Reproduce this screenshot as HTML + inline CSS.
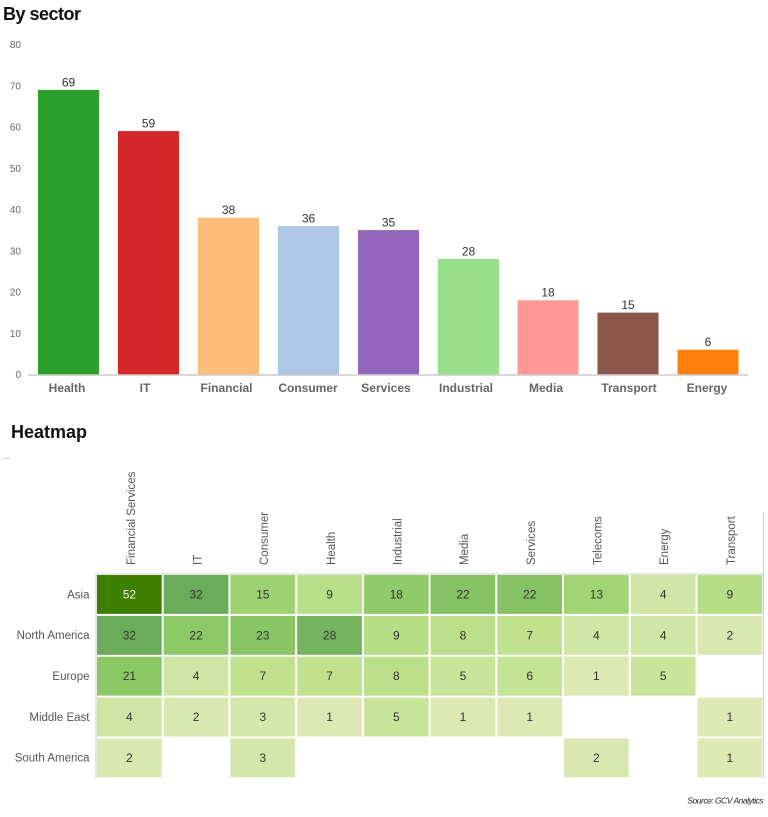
<!DOCTYPE html>
<html>
<head>
<meta charset="utf-8">
<style>
html,body{margin:0;padding:0;background:#fff;}
svg{display:block;font-family:"Liberation Sans",Arial,sans-serif;}
</style>
</head>
<body>
<svg width="768" height="817" viewBox="0 0 768 817" xmlns="http://www.w3.org/2000/svg">
<!-- Title -->
<text x="3" y="20" font-size="18" font-weight="bold" letter-spacing="-0.5" fill="#111">By sector</text>

<!-- Y ticks -->
<g font-size="10" fill="#666" text-anchor="end">
<text x="21" y="48">80</text>
<text x="21" y="89.5">70</text>
<text x="21" y="130.5">60</text>
<text x="21" y="171.8">50</text>
<text x="21" y="213">40</text>
<text x="21" y="254.3">30</text>
<text x="21" y="295.5">20</text>
<text x="21" y="336.8">10</text>
<text x="21" y="378">0</text>
</g>

<!-- Bars -->
<rect x="38" y="89.9" width="61" height="284.6" fill="#2ca02c"/>
<rect x="118" y="131.1" width="61" height="243.4" fill="#d62728"/>
<rect x="198" y="217.75" width="61" height="156.75" fill="#ffbb78"/>
<rect x="278" y="226" width="61" height="148.5" fill="#aec7e8"/>
<rect x="358" y="230.1" width="61" height="144.4" fill="#9467bd"/>
<rect x="438" y="259" width="61" height="115.5" fill="#98df8a"/>
<rect x="517.5" y="300.25" width="61" height="74.25" fill="#ff9896"/>
<rect x="597.5" y="312.6" width="61" height="61.9" fill="#8c564b"/>
<rect x="677.5" y="349.75" width="61" height="24.75" fill="#ff7f0e"/>

<line x1="28" y1="375" x2="748" y2="375" stroke="#ccc" stroke-width="1.5"/>

<!-- Value labels -->
<g font-size="12" fill="#333" text-anchor="middle">
<text x="68.5" y="86.5">69</text>
<text x="148.5" y="127.5">59</text>
<text x="228.5" y="214">38</text>
<text x="308.5" y="222.5">36</text>
<text x="388.5" y="226.5">35</text>
<text x="468.5" y="255.5">28</text>
<text x="548" y="296.5">18</text>
<text x="628" y="309">15</text>
<text x="708" y="346">6</text>
</g>

<!-- Category labels -->
<g font-size="12" font-weight="bold" fill="#666" text-anchor="middle">
<text x="67" y="392">Health</text>
<text x="145" y="392">IT</text>
<text x="226.5" y="392">Financial</text>
<text x="308" y="392">Consumer</text>
<text x="386" y="392">Services</text>
<text x="466" y="392">Industrial</text>
<text x="546" y="392">Media</text>
<text x="629" y="392">Transport</text>
<text x="707" y="392">Energy</text>
</g>

<!-- Heatmap title -->
<text x="11" y="438" font-size="18" font-weight="bold" fill="#111">Heatmap</text>
<line x1="3" y1="458.5" x2="10" y2="458.5" stroke="#ccc" stroke-width="1"/>

<!-- Column labels -->
<g font-size="11.5" fill="#555">
<text transform="translate(135,565) rotate(-90)">Financial Services</text>
<text transform="translate(201.5,565) rotate(-90)">IT</text>
<text transform="translate(268,565) rotate(-90)">Consumer</text>
<text transform="translate(335,565) rotate(-90)">Health</text>
<text transform="translate(401.5,565) rotate(-90)">Industrial</text>
<text transform="translate(468,565) rotate(-90)">Media</text>
<text transform="translate(535,565) rotate(-90)">Services</text>
<text transform="translate(601.5,565) rotate(-90)">Telecoms</text>
<text transform="translate(668,565) rotate(-90)">Energy</text>
<text transform="translate(735,565) rotate(-90)">Transport</text>
</g>

<!-- Row labels -->
<g font-size="11.5" fill="#555" text-anchor="end">
<text x="89.5" y="598.5">Asia</text>
<text x="89.5" y="639">North America</text>
<text x="89.5" y="680">Europe</text>
<text x="89.5" y="721">Middle East</text>
<text x="89.5" y="761.5">South America</text>
</g>

<!-- grid borders -->
<line x1="96" y1="574" x2="96" y2="778.3" stroke="#ccc" stroke-width="1"/>
<line x1="96" y1="574" x2="763" y2="574" stroke="#ccc" stroke-width="1"/>
<line x1="763.5" y1="512" x2="763.5" y2="778.3" stroke="#ccc" stroke-width="1"/>

<!-- Cells -->
<g>
<!-- Asia row y=574 -->
<rect x="97" y="575" width="64.7" height="38.9" fill="#3d7f00"/>
<rect x="163.7" y="575" width="64.7" height="38.9" fill="#6aac5a"/>
<rect x="230.4" y="575" width="64.7" height="38.9" fill="#9ed172"/>
<rect x="297.2" y="575" width="64.7" height="38.9" fill="#b5df88"/>
<rect x="363.9" y="575" width="64.7" height="38.9" fill="#91ca6a"/>
<rect x="430.6" y="575" width="64.7" height="38.9" fill="#85c263"/>
<rect x="497.3" y="575" width="64.7" height="38.9" fill="#85c263"/>
<rect x="564" y="575" width="64.7" height="38.9" fill="#a2d476"/>
<rect x="630.8" y="575" width="64.7" height="38.9" fill="#cfe6a5"/>
<rect x="697.5" y="575" width="64.7" height="38.9" fill="#b6de87"/>
<!-- North America y=614.9 -->
<rect x="97" y="615.9" width="64.7" height="38.9" fill="#6aac5a"/>
<rect x="163.7" y="615.9" width="64.7" height="38.9" fill="#8cc866"/>
<rect x="230.4" y="615.9" width="64.7" height="38.9" fill="#88c565"/>
<rect x="297.2" y="615.9" width="64.7" height="38.9" fill="#74b45e"/>
<rect x="363.9" y="615.9" width="64.7" height="38.9" fill="#b6de87"/>
<rect x="430.6" y="615.9" width="64.7" height="38.9" fill="#bbe08b"/>
<rect x="497.3" y="615.9" width="64.7" height="38.9" fill="#c0e28f"/>
<rect x="564" y="615.9" width="64.7" height="38.9" fill="#cfe6a5"/>
<rect x="630.8" y="615.9" width="64.7" height="38.9" fill="#cfe6a5"/>
<rect x="697.5" y="615.9" width="64.7" height="38.9" fill="#d9e8b0"/>
<!-- Europe y=655.7 -->
<rect x="97" y="656.7" width="64.7" height="38.9" fill="#8cc766"/>
<rect x="163.7" y="656.7" width="64.7" height="38.9" fill="#cfe6a5"/>
<rect x="230.4" y="656.7" width="64.7" height="38.9" fill="#c0e28f"/>
<rect x="297.2" y="656.7" width="64.7" height="38.9" fill="#c0e28f"/>
<rect x="363.9" y="656.7" width="64.7" height="38.9" fill="#bbe08b"/>
<rect x="430.6" y="656.7" width="64.7" height="38.9" fill="#c9e59b"/>
<rect x="497.3" y="656.7" width="64.7" height="38.9" fill="#c4e394"/>
<rect x="564" y="656.7" width="64.7" height="38.9" fill="#dde8b5"/>
<rect x="630.8" y="656.7" width="64.7" height="38.9" fill="#c9e59b"/>
<!-- Middle East y=696.6 -->
<rect x="97" y="697.6" width="64.7" height="38.9" fill="#cfe6a5"/>
<rect x="163.7" y="697.6" width="64.7" height="38.9" fill="#d9e8b0"/>
<rect x="230.4" y="697.6" width="64.7" height="38.9" fill="#d4e7aa"/>
<rect x="297.2" y="697.6" width="64.7" height="38.9" fill="#dde8b5"/>
<rect x="363.9" y="697.6" width="64.7" height="38.9" fill="#c9e59b"/>
<rect x="430.6" y="697.6" width="64.7" height="38.9" fill="#dde8b5"/>
<rect x="497.3" y="697.6" width="64.7" height="38.9" fill="#dde8b5"/>
<rect x="697.5" y="697.6" width="64.7" height="38.9" fill="#dde8b5"/>
<!-- South America y=737.4 -->
<rect x="97" y="738.4" width="64.7" height="38.9" fill="#d9e8b0"/>
<rect x="230.4" y="738.4" width="64.7" height="38.9" fill="#d4e7aa"/>
<rect x="564" y="738.4" width="64.7" height="38.9" fill="#d9e8b0"/>
<rect x="697.5" y="738.4" width="64.7" height="38.9" fill="#dde8b5"/>
</g>

<!-- Cell values -->
<g font-size="12" fill="#333" text-anchor="middle">
<text x="129.4" y="598.5" fill="#f2f2f2">52</text>
<text x="196.1" y="598.5">32</text>
<text x="262.8" y="598.5">15</text>
<text x="329.6" y="598.5">9</text>
<text x="396.3" y="598.5">18</text>
<text x="463" y="598.5">22</text>
<text x="529.7" y="598.5">22</text>
<text x="596.4" y="598.5">13</text>
<text x="663.2" y="598.5">4</text>
<text x="729.9" y="598.5">9</text>

<text x="129.4" y="639.3">32</text>
<text x="196.1" y="639.3">22</text>
<text x="262.8" y="639.3">23</text>
<text x="329.6" y="639.3">28</text>
<text x="396.3" y="639.3">9</text>
<text x="463" y="639.3">8</text>
<text x="529.7" y="639.3">7</text>
<text x="596.4" y="639.3">4</text>
<text x="663.2" y="639.3">4</text>
<text x="729.9" y="639.3">2</text>

<text x="129.4" y="680.2">21</text>
<text x="196.1" y="680.2">4</text>
<text x="262.8" y="680.2">7</text>
<text x="329.6" y="680.2">7</text>
<text x="396.3" y="680.2">8</text>
<text x="463" y="680.2">5</text>
<text x="529.7" y="680.2">6</text>
<text x="596.4" y="680.2">1</text>
<text x="663.2" y="680.2">5</text>

<text x="129.4" y="721">4</text>
<text x="196.1" y="721">2</text>
<text x="262.8" y="721">3</text>
<text x="329.6" y="721">1</text>
<text x="396.3" y="721">5</text>
<text x="463" y="721">1</text>
<text x="529.7" y="721">1</text>
<text x="729.9" y="721">1</text>

<text x="129.4" y="761.9">2</text>
<text x="262.8" y="761.9">3</text>
<text x="596.4" y="761.9">2</text>
<text x="729.9" y="761.9">1</text>
</g>

<!-- Source -->
<text x="763" y="803.5" font-size="8.5" font-style="italic" letter-spacing="-0.5" fill="#222" text-anchor="end">Source: GCV Analytics</text>
</svg>
</body>
</html>
